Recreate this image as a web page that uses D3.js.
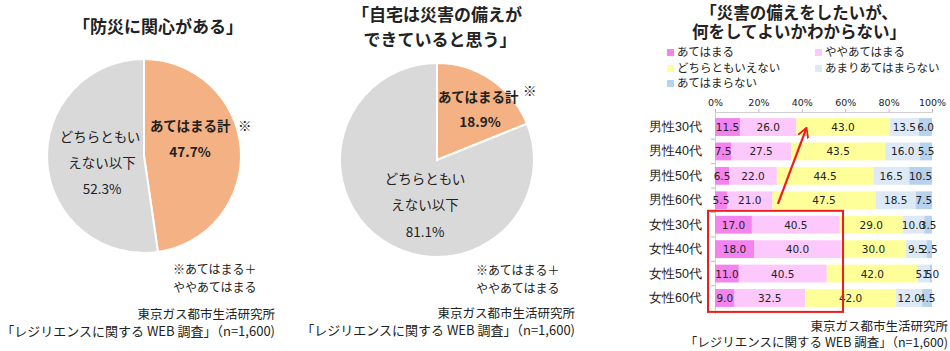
<!DOCTYPE html>
<html>
<head>
<meta charset="utf-8">
<script src="https://cdn.jsdelivr.net/npm/d3@7"></script>
<style>
  body { margin: 0; background: #fff; }
  svg { display: block; font-family: "Noto Sans CJK JP", "Noto Sans", sans-serif; }
  text { fill: #222; }
</style>
</head>
<body>
<svg id="chart" width="950" height="351"></svg>
<script>
// pie data
const pieLabels = ["あてはまる計", "どちらともいえない以下"];
const interestValues = [47.7, 52.3];
const preparedValues = [18.9, 81.1];
const pieColors = ["#f4b183", "#d9d9d9"];

// stacked bar data
const groups = ["男性30代", "男性40代", "男性50代", "男性60代", "女性30代", "女性40代", "女性50代", "女性60代"];
const answers = ["あてはまる", "ややあてはまる", "どちらともいえない", "あまりあてはまらない", "あてはまらない"];
const atehamaru = [11.5, 7.5, 6.5, 5.5, 17.0, 18.0, 11.0, 9.0];
const yaya = [26.0, 27.5, 22.0, 21.0, 40.5, 40.0, 40.5, 32.5];
const dochira = [43.0, 43.5, 44.5, 47.5, 29.0, 30.0, 42.0, 42.0];
const amari = [13.5, 16.0, 16.5, 18.5, 10.0, 9.5, 5.5, 12.0];
const atehamaranai = [6.0, 5.5, 10.5, 7.5, 3.5, 2.5, 1.0, 4.5];
const barColors = ["#f383ef", "#fdc8fb", "#ffff99", "#dde9f6", "#b7d2ee"];
const xTicks = [0, 20, 40, 60, 80, 100];

const svg = d3.select("#chart");

function txt(g, x, y, s, opts) {
    opts = opts || {};
    return g.append("text")
        .attr("x", x).attr("y", y)
        .attr("text-anchor", opts.anchor || "start")
        .attr("font-size", opts.size || 13)
        .attr("font-weight", opts.bold ? "bold" : "normal")
        .attr("fill", opts.fill || "#222")
        .text(s);
}

const pie = d3.pie().sort(null).value(d => d);
const arc = d3.arc().innerRadius(0).outerRadius(97);

function drawPie(cx, cy, values) {
    const g = svg.append("g").attr("transform", `translate(${cx},${cy})`);
    g.selectAll("path")
        .data(pie(values))
        .join("path")
        .attr("d", arc)
        .attr("fill", (d, i) => pieColors[i])
        .attr("stroke", "#fff")
        .attr("stroke-width", 2);
    return g;
}

// ---- left pie
const p1 = drawPie(144, 156, interestValues);
txt(svg, 158, 33, "「防災に関心がある」", {anchor: "middle", size: 17, bold: true});
txt(p1, 6, -25, pieLabels[0], {size: 13.5, bold: true});
txt(p1, 94, -25, "※", {size: 13.5});
txt(p1, 46, 1, interestValues[0].toFixed(1) + "%", {anchor: "middle", size: 13.5, bold: true});
txt(p1, -44, -14, "どちらともい", {anchor: "middle", size: 13.5});
txt(p1, -42, 12, "えない以下", {anchor: "middle", size: 13.5});
txt(p1, -42, 38, interestValues[1].toFixed(1) + "%", {anchor: "middle", size: 13.5});
txt(svg, 173, 274, "※あてはまる＋", {size: 12});
txt(svg, 173, 292, "ややあてはまる", {size: 12});
txt(svg, 275, 319, "東京ガス都市生活研究所", {anchor: "end", size: 12.5});
txt(svg, 275, 336, "「レジリエンスに関する WEB 調査」（n=1,600)", {anchor: "end", size: 13});

// ---- middle pie
const p2 = drawPie(437, 160, preparedValues);
txt(svg, 437, 21, "「自宅は災害の備えが", {anchor: "middle", size: 17, bold: true});
txt(svg, 440, 46, "できていると思う」", {anchor: "middle", size: 17, bold: true});
txt(p2, 1, -58, pieLabels[0], {size: 13.5, bold: true});
txt(p2, 86, -64, "※", {size: 13.5});
txt(p2, 43, -33, preparedValues[0].toFixed(1) + "%", {anchor: "middle", size: 13.5, bold: true});
txt(p2, -12, 24, "どちらともい", {anchor: "middle", size: 13.5});
txt(p2, -12, 50, "えない以下", {anchor: "middle", size: 13.5});
txt(p2, -12, 77, preparedValues[1].toFixed(1) + "%", {anchor: "middle", size: 13.5});
txt(svg, 476, 275, "※あてはまる＋", {size: 12});
txt(svg, 476, 293, "ややあてはまる", {size: 12});
txt(svg, 575, 318, "東京ガス都市生活研究所", {anchor: "end", size: 12.5});
txt(svg, 575, 335, "「レジリエンスに関する WEB 調査」（n=1,600)", {anchor: "end", size: 13});

// ---- right stacked bar
txt(svg, 799, 19, "「災害の備えをしたいが、", {anchor: "middle", size: 16.5, bold: true});
txt(svg, 799, 38, "何をしてよいかわからない」", {anchor: "middle", size: 16.5, bold: true});

// legend
const legendPos = [[667, 52], [815, 52], [667, 68], [815, 68], [667, 83]];
answers.forEach((a, i) => {
    const [lx, ly] = legendPos[i];
    svg.append("rect").attr("x", lx).attr("y", ly - 3).attr("width", 7).attr("height", 7).attr("fill", barColors[i]);
    txt(svg, lx + 10, ly + 4, a, {size: 11.5, fill: "#444"});
});

const series = [atehamaru, yaya, dochira, amari, atehamaranai];
const rows = groups.map((g, i) => {
    const r = {group: g};
    answers.forEach((a, j) => r[a] = series[j][i]);
    return r;
});
const stacked = d3.stack().keys(answers)(rows);

const x = d3.scaleLinear().domain([0, 100]).range([715, 932]);
const y = d3.scaleBand().domain(groups).range([111.5, 313.5]).padding(0.27);

const xAxis = d3.axisTop(x).tickValues(xTicks).tickSize(3).tickFormat(d => d + "%");
const xAxisG = svg.append("g").attr("transform", "translate(0,112)").call(xAxis);
xAxisG.select(".domain").attr("stroke", "#d0d0d0");
xAxisG.selectAll(".tick line").attr("stroke", "#bbb");
xAxisG.selectAll(".tick text").attr("font-size", 9.5).attr("fill", "#555").attr("dy", "0")
    .style("font-family", "DejaVu Sans, sans-serif");

const yAxisG = svg.append("g").attr("transform", "translate(715,0)")
    .call(d3.axisLeft(y).tickSize(0).tickPadding(13));
yAxisG.select(".domain").attr("stroke", "#d0d0d0");
yAxisG.selectAll(".tick text").attr("font-size", 12.5).attr("fill", "#333");
// small separators between rows on the left axis
yAxisG.selectAll(".sep")
    .data(groups.slice(1))
    .join("line")
    .attr("class", "sep")
    .attr("x1", -4).attr("x2", 0)
    .attr("y1", d => y(d) - y.step() * y.paddingInner() / 2)
    .attr("y2", d => y(d) - y.step() * y.paddingInner() / 2)
    .attr("stroke", "#bbb");

const layers = svg.append("g").selectAll("g")
    .data(stacked)
    .join("g")
    .attr("fill", (d, i) => barColors[i]);

layers.selectAll("rect")
    .data(d => d)
    .join("rect")
    .attr("x", d => x(d[0]))
    .attr("y", d => y(d.data.group))
    .attr("width", d => x(d[1]) - x(d[0]))
    .attr("height", y.bandwidth());

const labelG = svg.append("g");
stacked.forEach(layer => {
    layer.forEach(d => {
        labelG.append("text")
            .attr("x", x((d[0] + d[1]) / 2))
            .attr("y", y(d.data.group) + y.bandwidth() / 2 + 4)
            .attr("text-anchor", "middle")
            .attr("font-size", 10.5)
            .attr("fill", "#333")
            .style("font-family", "DejaVu Sans, sans-serif")
            .text((d[1] - d[0]).toFixed(1));
    });
});

// red highlight box around women's first two answers
const boxTop = y("女性30代") - 5;
const boxBottom = y("女性60代") + y.bandwidth() + 5;
svg.append("rect")
    .attr("x", x(0) - 7).attr("y", boxTop)
    .attr("width", x(59) - x(0) + 7).attr("height", boxBottom - boxTop)
    .attr("fill", "none").attr("stroke", "#ee1c1c").attr("stroke-width", 2);

// red arrow
svg.append("defs").append("marker")
    .attr("id", "arrow").attr("viewBox", "0 0 10 10")
    .attr("refX", 8).attr("refY", 5)
    .attr("markerWidth", 5).attr("markerHeight", 5)
    .attr("orient", "auto")
    .append("path").attr("d", "M0,0 L9,5 L0,10").attr("fill", "none").attr("stroke", "#ee1c1c").attr("stroke-width", 1.6);
svg.append("line")
    .attr("x1", x(29)).attr("y1", y("男性60代") + y.bandwidth() * 0.7)
    .attr("x2", x(42)).attr("y2", y("男性30代") + y.bandwidth() * 0.6)
    .attr("stroke", "#ee1c1c").attr("stroke-width", 2.2)
    .attr("marker-end", "url(#arrow)");

txt(svg, 948, 331, "東京ガス都市生活研究所", {anchor: "end", size: 12.5});
txt(svg, 948, 347, "「レジリエンスに関する WEB 調査」（n=1,600)", {anchor: "end", size: 12.5});
</script>
</body>
</html>
